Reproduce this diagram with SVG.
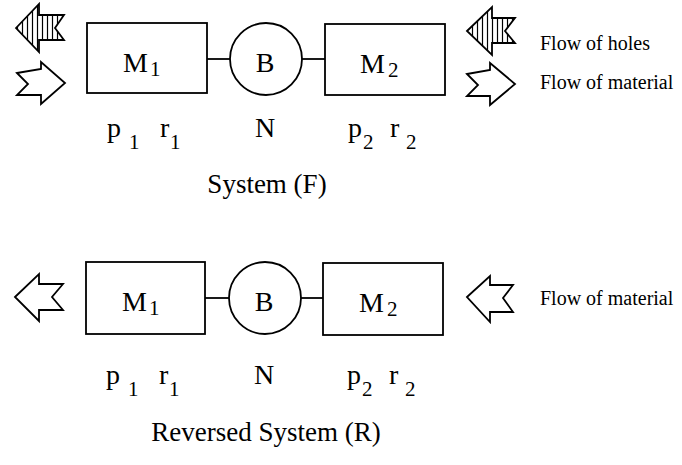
<svg xmlns="http://www.w3.org/2000/svg" width="682" height="465" viewBox="0 0 682 465">
<defs>
<pattern id="hatch" patternUnits="userSpaceOnUse" width="5" height="5">
<line x1="2.5" y1="0" x2="2.5" y2="5" stroke="#000" stroke-width="1.2"/>
</pattern>
</defs>
<style>
.box{fill:#fff;stroke:#000;stroke-width:1.8}
.conn{stroke:#000;stroke-width:1.8;fill:none}
.arr{fill:#fff;stroke:#000;stroke-width:1.8;stroke-linejoin:miter}
.harr{fill:url(#hatch);stroke:#000;stroke-width:1.8}
.t{font-family:"Liberation Serif","Times New Roman",serif;fill:#000}
.big{font-size:28px}
.sub{font-size:21px}
.leg{font-size:20px}
.cap{font-size:27px}
</style>
<rect width="682" height="465" fill="#fff"/>

<g id="connectors">
<line class="conn" x1="207" y1="59" x2="230" y2="59"/>
<line class="conn" x1="302" y1="59" x2="325" y2="59"/>
<line class="conn" x1="205" y1="298" x2="229" y2="298"/>
<line class="conn" x1="301" y1="298" x2="323" y2="298"/>
</g>

<g id="F-M1">
<rect class="box" x="87" y="23" width="120" height="70"/>
<text class="t big" x="123" y="72">M</text><text class="t sub" x="150" y="76">1</text>
</g>
<g id="F-B">
<circle class="box" cx="266" cy="59" r="36"/>
<text class="t big" x="265" y="72" text-anchor="middle">B</text>
</g>
<g id="F-M2">
<rect class="box" x="325" y="24" width="120" height="71"/>
<text class="t big" x="360" y="73">M</text><text class="t sub" x="388" y="77">2</text>
</g>
<g id="F-labels">
<text class="t big" x="107" y="137">p</text><text class="t sub" x="129" y="149">1</text>
<text class="t big" x="160" y="137">r</text><text class="t sub" x="170" y="149">1</text>
<text class="t big" x="265" y="137" text-anchor="middle">N</text>
<text class="t big" x="348" y="137">p</text><text class="t sub" x="363" y="149">2</text>
<text class="t big" x="390" y="137">r</text><text class="t sub" x="406" y="149">2</text>
<text class="t cap" x="267" y="193" text-anchor="middle">System (F)</text>
</g>
<g id="F-arrows">
<path class="harr" d="M16,28 L39,4 L39,15 L64,15 L55,28 L64,40 L39,40 L39,52 Z"/>
<path class="arr" d="M17,73 L41,69 L41,62 L65,83 L41,104 L41,95 L17,95 L28,84 Z"/>
</g>
<g id="legend">
<path class="harr" d="M467,31 L492,7 L492,18 L515,18 L505,31 L515,43 L492,43 L492,55 Z"/>
<text class="t leg" x="540" y="50">Flow of holes</text>
<path class="arr" d="M467,74 L490,70 L490,63 L515,84 L490,105 L490,96 L467,96 L478,85 Z"/>
<text class="t leg" x="540" y="89">Flow of material</text>
</g>

<g id="R-M1">
<rect class="box" x="86" y="262" width="119" height="72"/>
<text class="t big" x="122" y="311">M</text><text class="t sub" x="149" y="315">1</text>
</g>
<g id="R-B">
<circle class="box" cx="265" cy="298" r="36"/>
<text class="t big" x="264" y="311" text-anchor="middle">B</text>
</g>
<g id="R-M2">
<rect class="box" x="323" y="263" width="120" height="72"/>
<text class="t big" x="359" y="312">M</text><text class="t sub" x="387" y="316">2</text>
</g>
<g id="R-labels">
<text class="t big" x="106" y="384">p</text><text class="t sub" x="128" y="396">1</text>
<text class="t big" x="159" y="384">r</text><text class="t sub" x="169" y="396">1</text>
<text class="t big" x="264" y="384" text-anchor="middle">N</text>
<text class="t big" x="347" y="384">p</text><text class="t sub" x="362" y="396">2</text>
<text class="t big" x="389" y="384">r</text><text class="t sub" x="405" y="396">2</text>
<text class="t cap" x="266" y="441" text-anchor="middle">Reversed System (R)</text>
</g>
<g id="R-arrows">
<path class="arr" d="M15,297 L39,274 L39,284 L63,284 L52,297 L63,310 L39,310 L39,321 Z"/>
<path class="arr" d="M467,297 L490,276 L490,285 L513,285 L503,298 L513,312 L490,312 L490,322 Z"/>
<text class="t leg" x="540" y="305">Flow of material</text>
</g>
</svg>
